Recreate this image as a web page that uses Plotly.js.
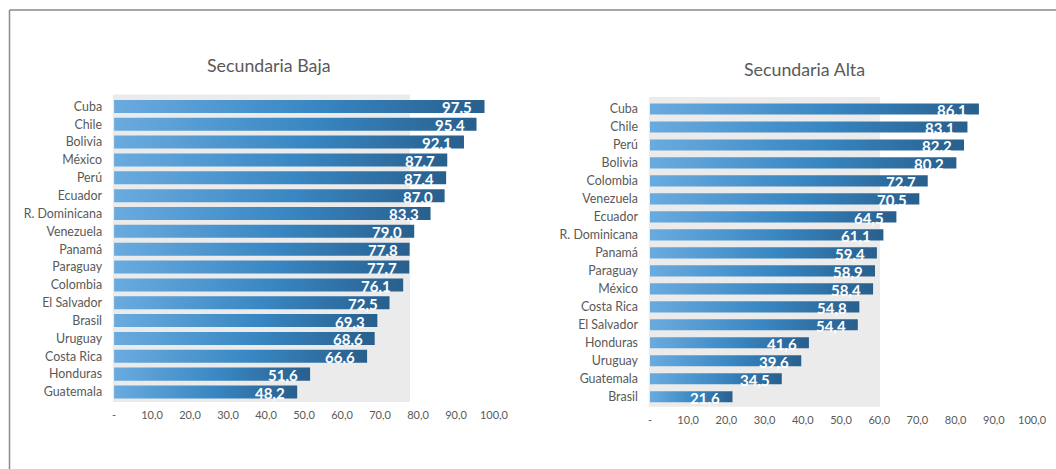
<!DOCTYPE html>
<html>
<head>
<meta charset="utf-8">
<script src="https://cdn.plot.ly/plotly-3.0.1.min.js"></script>
<style>
  html, body { margin: 0; padding: 0; background: #ffffff; }
  #chart { width: 1056px; height: 469px; }
</style>
</head>
<body>
<div id="chart"></div>
<script>
// ---- Data ----
const bajaCountries = ["Cuba", "Chile", "Bolivia", "México", "Perú", "Ecuador", "R. Dominicana",
  "Venezuela", "Panamá", "Paraguay", "Colombia", "El Salvador", "Brasil", "Uruguay",
  "Costa Rica", "Honduras", "Guatemala"];
const bajaValues = [97.5, 95.4, 92.1, 87.7, 87.4, 87.0, 83.3, 79.0, 77.8, 77.7, 76.1, 72.5,
  69.3, 68.6, 66.6, 51.6, 48.2];

const altaCountries = ["Cuba", "Chile", "Perú", "Bolivia", "Colombia", "Venezuela", "Ecuador",
  "R. Dominicana", "Panamá", "Paraguay", "México", "Costa Rica", "El Salvador", "Honduras",
  "Uruguay", "Guatemala", "Brasil"];
const altaValues = [86.1, 83.1, 82.2, 80.2, 72.7, 70.5, 64.5, 61.1, 59.4, 58.9, 58.4, 54.8,
  54.4, 41.6, 39.6, 34.5, 21.6];

const tickValues = [0, 10, 20, 30, 40, 50, 60, 70, 80, 90, 100];
const tickLabels = ["-", "10,0", "20,0", "30,0", "40,0", "50,0", "60,0", "70,0", "80,0", "90,0", "100,0"];

const titles = ["Secundaria Baja", "Secundaria Alta"];

// ---- Styles ----
const FONT = "Lato, 'Open Sans', sans-serif";
const GREY = "#595959";
const fmt = v => v.toFixed(1).replace(".", ",");

const traces = [
  { type: "bar", orientation: "h", x: bajaValues, y: bajaCountries, xaxis: "x", yaxis: "y",
    width: 0.73, marker: { color: "#3a86c2" }, hoverinfo: "x+y" },
  { type: "bar", orientation: "h", x: altaValues, y: altaCountries, xaxis: "x2", yaxis: "y2",
    width: 0.62, marker: { color: "#3a86c2" }, hoverinfo: "x+y" }
];

function valueAnnots(countries, values, xr, yr) {
  return values.map((v, i) => ({
    x: v, y: countries[i], xref: xr, yref: yr, text: "<b>" + fmt(v) + "</b>",
    showarrow: false, xanchor: "right", yanchor: "middle", xshift: -10, yshift: -1,
    font: { family: FONT, size: 15, color: "#ffffff" }
  }));
}

const xCommon = {
  range: [0, 100], tickvals: tickValues, ticktext: tickLabels, showgrid: false,
  zeroline: false, showline: false, ticks: "", fixedrange: true, ticklabelstandoff: 5,
  tickfont: { family: FONT, size: 11, color: GREY }
};
const yCommon = {
  autorange: "reversed", showgrid: false, zeroline: false, showline: false, ticks: "",
  ticklabelstandoff: 11, tickfont: { family: FONT, size: 12.4, color: GREY }
};

const layout = {
  width: 1056, height: 469,
  margin: { l: 0, r: 0, t: 0, b: 0 },
  paper_bgcolor: "#ffffff", plot_bgcolor: "rgba(0,0,0,0)",
  showlegend: false,
  separators: ",.",
  xaxis: Object.assign({}, xCommon, { domain: [0.108, 0.4678], anchor: "y" }),
  yaxis: Object.assign({}, yCommon, { domain: [0.1429, 0.7987], anchor: "x" }),
  xaxis2: Object.assign({}, xCommon, { domain: [0.6155, 0.9773], anchor: "y2" }),
  yaxis2: Object.assign({}, yCommon, { domain: [0.1328, 0.7932], anchor: "x2" }),
  shapes: [
    { type: "rect", xref: "x domain", yref: "y domain", x0: -0.003, x1: 0.779, y0: 0, y1: 1,
      fillcolor: "#ebebeb", line: { width: 0 }, layer: "below" },
    { type: "rect", xref: "x2 domain", yref: "y2 domain", x0: -0.003, x1: 0.602, y0: 0, y1: 1,
      fillcolor: "#ebebeb", line: { width: 0 }, layer: "below" },
    { type: "line", xref: "paper", yref: "paper", x0: 9.5 / 1056, x1: 9.5 / 1056, y0: 0, y1: 1 - 10 / 469,
      line: { color: "#8a8a8a", width: 1.5 } },
    { type: "line", xref: "paper", yref: "paper", x0: 9.5 / 1056, x1: 1, y0: 1 - 10 / 469, y1: 1 - 10 / 469,
      line: { color: "#8a8a8a", width: 1.5 } }
  ],
  annotations: [
    { text: titles[0], xref: "paper", yref: "paper", x: 268.5 / 1056, y: 1 - 65 / 469,
      showarrow: false, xanchor: "center", yanchor: "middle",
      font: { family: FONT, size: 17.8, color: GREY } },
    { text: titles[1], xref: "paper", yref: "paper", x: 804.5 / 1056, y: 1 - 69 / 469,
      showarrow: false, xanchor: "center", yanchor: "middle",
      font: { family: FONT, size: 17.8, color: GREY } }
  ].concat(valueAnnots(bajaCountries, bajaValues, "x", "y"))
   .concat(valueAnnots(altaCountries, altaValues, "x2", "y2"))
};

Plotly.newPlot("chart", traces, layout, { displayModeBar: false, staticPlot: true }).then(gd => {
  // Horizontal gradient fill per bar, like the spreadsheet original
  const svg = gd.querySelector("svg.main-svg");
  const ns = "http://www.w3.org/2000/svg";
  let defs = svg.querySelector("defs");
  if (!defs) { defs = document.createElementNS(ns, "defs"); svg.insertBefore(defs, svg.firstChild); }
  const grad = document.createElementNS(ns, "linearGradient");
  grad.setAttribute("id", "barGrad");
  grad.setAttribute("x1", "0"); grad.setAttribute("x2", "1");
  grad.setAttribute("y1", "0"); grad.setAttribute("y2", "0");
  [["0%", "#6aabdf"], ["55%", "#3886c2"], ["100%", "#285f8d"]].forEach(([o, c]) => {
    const s = document.createElementNS(ns, "stop");
    s.setAttribute("offset", o); s.setAttribute("stop-color", c);
    grad.appendChild(s);
  });
  defs.appendChild(grad);
  gd.querySelectorAll(".barlayer .point path").forEach(p => { p.style.fill = "url(#barGrad)"; });
});
</script>
</body>
</html>
